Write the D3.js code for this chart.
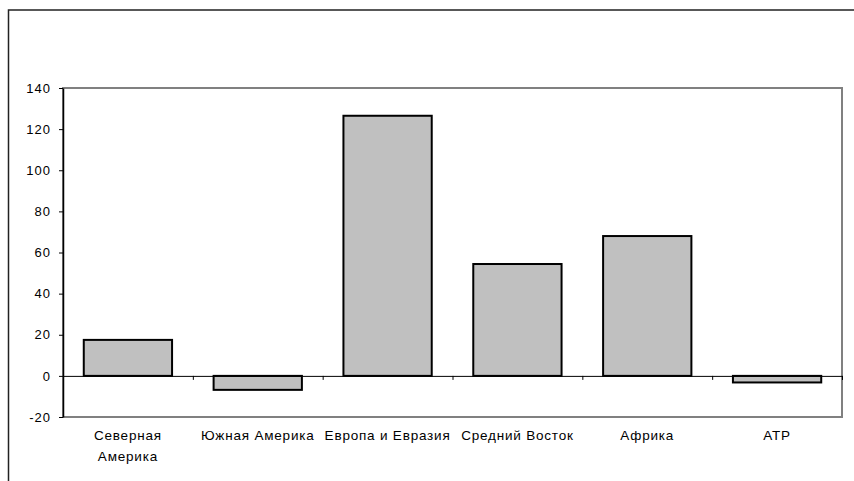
<!DOCTYPE html>
<html>
  <head>
    <meta charset="utf-8">
    <title>Регионы</title>
    <script src="https://d3js.org/d3.v7.min.js"></script>
    <style>
      body { margin: 0; background: #fff; }
      text { font-family: "Liberation Sans", Arial, sans-serif; }
    </style>
  </head>
  <body>

    <div id="chart"></div>
    <script>
// Data
const categories = ["Северная Америка", "Южная Америка", "Европа и Евразия", "Средний Восток", "Африка", "АТР"];
const values = [17.5, -6.8, 126.5, 54.4, 68, -3.2];
const tickLabels = [["Северная", "Америка"], ["Южная Америка"], ["Европа и Евразия"], ["Средний Восток"], ["Африка"], ["АТР"]];
const yTicks = [-20, 0, 20, 40, 60, 80, 100, 120, 140];

// Chart dimensions
const width = 854;
const height = 481;
const marginTop = 88;
const marginRight = 12;
const marginBottom = 64;
const marginLeft = 63;

function createChart() {
  const x = d3.scaleBand()
    .domain(categories)
    .range([marginLeft, width - marginRight])
    .paddingInner(0.32)
    .paddingOuter(0.16);

  // linear helper for the tick marks between categories
  const xEdge = d3.scaleLinear()
    .domain([0, categories.length])
    .range([marginLeft, width - marginRight]);

  const y = d3.scaleLinear()
    .domain([-20, 140])
    .range([height - marginBottom, marginTop]);

  const svg = d3.select("#chart").append("svg")
    .attr("width", width)
    .attr("height", height)
    .attr("viewBox", [0, 0, width, height]);

  // Outer chart frame (runs off the picture on the right and bottom)
  svg.append("rect")
    .attr("x", 8.5)
    .attr("y", 10)
    .attr("width", width + 20)
    .attr("height", height + 20)
    .attr("fill", "none")
    .attr("stroke", "#222")
    .attr("stroke-width", 1.5);

  // Plot area border (gray)
  svg.append("rect")
    .attr("x", marginLeft)
    .attr("y", y(140))
    .attr("width", width - marginRight - marginLeft)
    .attr("height", y(-20) - y(140))
    .attr("fill", "none")
    .attr("stroke", "#808080")
    .attr("stroke-width", 2);

  // Bars
  svg.append("g")
    .selectAll("rect")
    .data(values)
    .join("rect")
    .attr("x", (d, i) => x(categories[i]))
    .attr("y", d => y(Math.max(0, d)))
    .attr("width", x.bandwidth())
    .attr("height", d => Math.abs(y(d) - y(0)))
    .attr("fill", "#c0c0c0")
    .attr("stroke", "#000")
    .attr("stroke-width", 2);

  // Zero axis with category ticks
  svg.append("g")
    .attr("transform", `translate(0,${y(0)})`)
    .call(d3.axisBottom(xEdge).tickValues(d3.range(1, categories.length + 1)).tickSize(4).tickFormat(""))
    .call(g => g.select(".domain").attr("stroke", "#000").attr("stroke-width", 1))
    .call(g => g.selectAll(".tick line").attr("stroke", "#000"));

  // Y axis
  svg.append("g")
    .attr("transform", `translate(${marginLeft},0)`)
    .call(d3.axisLeft(y).tickValues(yTicks).tickFormat(d => String(d)).tickSize(4).tickSizeOuter(0).tickPadding(8))
    .call(g => g.select(".domain").attr("stroke", "#000").attr("stroke-width", 1.5))
    .call(g => g.selectAll(".tick line").attr("stroke", "#000"))
    .call(g => g.selectAll(".tick text")
      .attr("fill", "#000")
      .style("font-size", "13px")
      .style("letter-spacing", "1px")
      .style("font-family", "'Liberation Sans', Arial, sans-serif"));

  // Category labels
  const labels = svg.append("g")
    .selectAll("text")
    .data(tickLabels)
    .join("text")
    .attr("x", (d, i) => x(categories[i]) + x.bandwidth() / 2)
    .attr("y", 440)
    .attr("text-anchor", "middle")
    .attr("fill", "#000")
    .style("font-size", "13.5px")
    .style("letter-spacing", "0.8px");

  labels.selectAll("tspan")
    .data(d => d)
    .join("tspan")
    .attr("x", function() { return this.parentNode.getAttribute("x"); })
    .attr("dy", (d, i) => i === 0 ? 0 : 21)
    .text(d => d);
}

createChart();
    </script>
  </body>
</html>
